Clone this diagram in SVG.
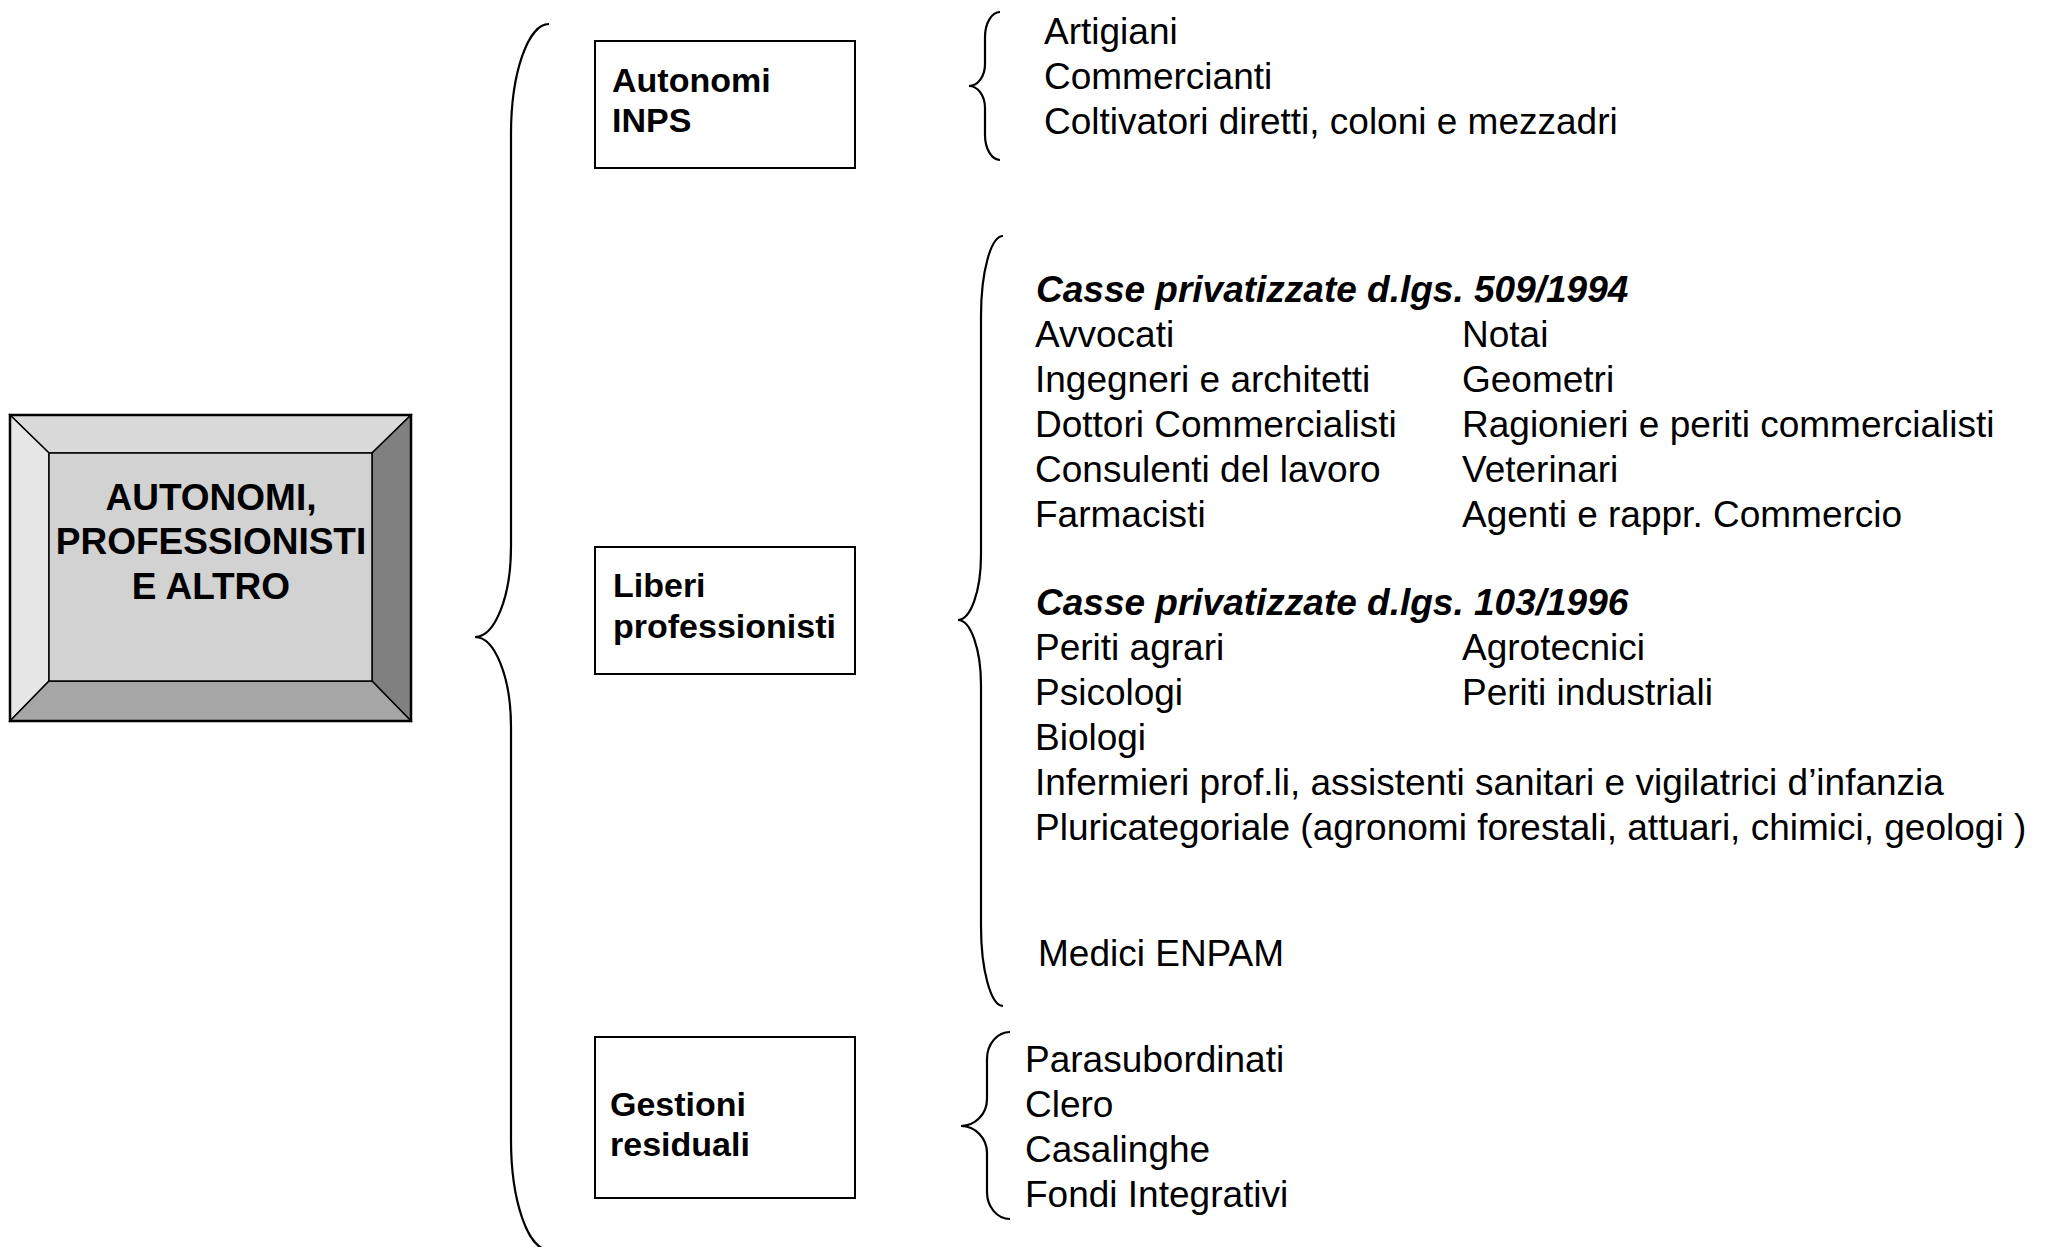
<svg xmlns="http://www.w3.org/2000/svg" width="2048" height="1247" viewBox="0 0 2048 1247">
<style>
text{font-family:"Liberation Sans",Arial,sans-serif;fill:#000}
.t{font-size:37px}
.h{font-size:37px;font-weight:bold;font-style:italic}
.b{font-size:34px;font-weight:bold}
.m{font-size:37px;font-weight:bold;text-anchor:middle}
.box{fill:#fff;stroke:#000;stroke-width:2}
.br{fill:none;stroke:#000;stroke-width:2.2}
.bev{stroke:#000;stroke-width:1.5}
</style>
<rect width="2048" height="1247" fill="#fff"/>
<g id="main">
<polygon class="bev" points="10,415 411,415 372,453 49,453" fill="#dadada"/>
<polygon class="bev" points="10,415 49,453 49,681 10,721" fill="#e6e6e6"/>
<polygon class="bev" points="411,415 411,721 372,681 372,453" fill="#808080"/>
<polygon class="bev" points="10,721 49,681 372,681 411,721" fill="#a6a6a6"/>
<rect class="bev" x="49" y="453" width="323" height="228" fill="#d2d2d2"/>
<rect x="10" y="415" width="401" height="306" fill="none" stroke="#000" stroke-width="2.5"/>
<text class="m" x="211" y="510">AUTONOMI,</text>
<text class="m" x="211" y="554">PROFESSIONISTI</text>
<text class="m" x="211" y="599">E ALTRO</text>
</g>
<g id="connectors">
<path class="br" d="M549 24 A38 110 0 0 0 511 134 L511 547 A36 90 0 0 1 475 637 A36 90 0 0 1 511 727 L511 1140 A38 110 0 0 0 549 1250"/>
<path class="br" d="M1000 12 A15 25 0 0 0 985 37 L985 64 A16 22 0 0 1 969 86 A16 22 0 0 1 985 108 L985 135 A15 25 0 0 0 1000 160"/>
<path class="br" d="M1003 236 A22 80 0 0 0 981 316 L981 555 A23 65 0 0 1 958 620 A23 65 0 0 1 981 685 L981 926 A22 80 0 0 0 1003 1006"/>
<path class="br" d="M1010 1032 A23 27 0 0 0 987 1059 L987 1099 A26 27 0 0 1 961 1126 A26 27 0 0 1 987 1153 L987 1192 A23 27 0 0 0 1010 1219"/>
</g>
<g id="autonomi-inps">
<rect class="box" x="595" y="41" width="260" height="127"/>
<text class="b" x="612" y="92">Autonomi</text>
<text class="b" x="612" y="132">INPS</text>
</g>
<g id="liberi-professionisti">
<rect class="box" x="595" y="547" width="260" height="127"/>
<text class="b" x="613" y="597">Liberi</text>
<text class="b" x="613" y="638">professionisti</text>
</g>
<g id="gestioni-residuali">
<rect class="box" x="595" y="1037" width="260" height="161"/>
<text class="b" x="610" y="1116">Gestioni</text>
<text class="b" x="610" y="1156">residuali</text>
</g>
<g id="list-autonomi">
<text class="t" x="1044" y="44">Artigiani</text>
<text class="t" x="1044" y="89">Commercianti</text>
<text class="t" x="1044" y="134">Coltivatori diretti, coloni e mezzadri</text>
</g>
<g id="list-liberi">
<text class="h" x="1036" y="302">Casse privatizzate d.lgs. 509/1994</text>
<text class="t" x="1035" y="347">Avvocati</text>
<text class="t" x="1462" y="347">Notai</text>
<text class="t" x="1035" y="392">Ingegneri e architetti</text>
<text class="t" x="1462" y="392">Geometri</text>
<text class="t" x="1035" y="437">Dottori Commercialisti</text>
<text class="t" x="1462" y="437">Ragionieri e periti commercialisti</text>
<text class="t" x="1035" y="482">Consulenti del lavoro</text>
<text class="t" x="1462" y="482">Veterinari</text>
<text class="t" x="1035" y="527">Farmacisti</text>
<text class="t" x="1462" y="527">Agenti e rappr. Commercio</text>
<text class="h" x="1036" y="615">Casse privatizzate d.lgs. 103/1996</text>
<text class="t" x="1035" y="660">Periti agrari</text>
<text class="t" x="1462" y="660">Agrotecnici</text>
<text class="t" x="1035" y="705">Psicologi</text>
<text class="t" x="1462" y="705">Periti industriali</text>
<text class="t" x="1035" y="750">Biologi</text>
<text class="t" x="1035" y="795">Infermieri prof.li, assistenti sanitari e vigilatrici d’infanzia</text>
<text class="t" x="1035" y="840">Pluricategoriale (agronomi forestali, attuari, chimici, geologi )</text>
<text class="t" x="1038" y="966">Medici ENPAM</text>
</g>
<g id="list-gestioni">
<text class="t" x="1025" y="1072">Parasubordinati</text>
<text class="t" x="1025" y="1117">Clero</text>
<text class="t" x="1025" y="1162">Casalinghe</text>
<text class="t" x="1025" y="1207">Fondi Integrativi</text>
</g>
</svg>
